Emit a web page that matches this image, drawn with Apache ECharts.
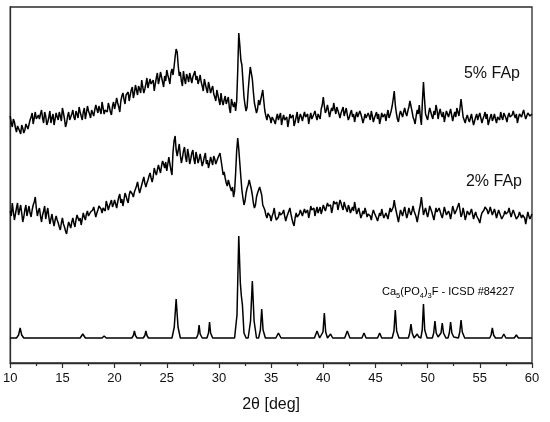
<!DOCTYPE html>
<html>
<head>
<meta charset="utf-8">
<script src="https://cdn.jsdelivr.net/npm/echarts@6/dist/echarts.min.js"></script>
<style>
  html, body { margin: 0; padding: 0; background: #fff; }
  #chart { width: 550px; height: 422px; }
</style>
</head>
<body>
<div id="chart"></div>
<script>
  // measurement grid, 2theta from 10 to 60 deg in 0.1 deg steps
  const twoTheta = Array.from({ length: 501 }, (_, i) => +(10 + i * 0.1).toFixed(1));

  // 5% FAp (stacked, arb. units), one row = 2 deg
  const fap5 = [
    247, 240, 236, 244, 241, 235, 231, 237, 238, 232, 229, 238, 235, 230, 233, 239, 241, 234, 236, 243,
    246, 250, 239, 245, 251, 244, 242, 248, 244, 249, 253, 245, 240, 251, 247, 238, 241, 246, 252, 240,
    245, 249, 238, 244, 250, 246, 243, 251, 247, 242, 255, 250, 244, 236, 240, 247, 251, 243, 246, 249,
    253, 246, 243, 252, 249, 245, 256, 251, 247, 243, 251, 255, 244, 250, 257, 252, 249, 245, 253, 250,
    247, 253, 258, 254, 250, 257, 253, 249, 261, 255, 249, 253, 255, 251, 260, 256, 251, 248, 257, 261,
    254, 259, 265, 260, 256, 251, 262, 267, 270, 264, 259, 268, 266, 271, 262, 268, 273, 276, 265, 270,
    278, 273, 268, 277, 274, 270, 283, 276, 270, 274, 279, 285, 275, 280, 284, 279, 277, 283, 272, 279,
    285, 290, 279, 284, 291, 286, 281, 276, 287, 282, 293, 288, 284, 279, 290, 294, 288, 296, 306, 314,
    311, 297, 287, 291, 282, 277, 292, 284, 279, 289, 286, 281, 290, 285, 280, 286, 288, 292, 283, 287,
    279, 283, 288, 281, 277, 272, 284, 279, 274, 270, 281, 276, 270, 274, 277, 269, 266, 262, 273, 268,
    263, 258, 270, 262, 258, 263, 267, 259, 261, 266, 255, 250, 264, 259, 256, 261, 252, 262, 292, 330,
    318, 303, 298, 282, 266, 258, 252, 256, 272, 285, 296, 294, 284, 271, 260, 262, 250, 254, 263, 258,
    260, 268, 273, 262, 252, 247, 243, 249, 251, 245, 240, 246, 248, 242, 239, 245, 249, 243, 244, 250,
    238, 244, 248, 243, 241, 246, 236, 242, 249, 245, 243, 248, 237, 241, 246, 251, 240, 245, 249, 246,
    242, 247, 251, 246, 244, 249, 239, 245, 250, 244, 245, 249, 252, 247, 243, 249, 248, 244, 254, 258,
    266, 257, 250, 253, 258, 252, 246, 251, 255, 252, 260, 254, 249, 256, 254, 249, 245, 250, 252, 256,
    247, 251, 255, 248, 243, 246, 250, 253, 246, 249, 241, 247, 251, 246, 244, 252, 249, 245, 240, 244,
    249, 245, 243, 250, 247, 243, 252, 247, 241, 245, 248, 251, 244, 249, 239, 244, 250, 246, 245, 249,
    242, 248, 253, 245, 248, 252, 257, 264, 272, 258, 250, 244, 241, 248, 252, 249, 246, 251, 255, 250,
    247, 252, 256, 262, 261, 252, 246, 243, 239, 247, 253, 249, 258, 246, 238, 262, 281, 264, 249, 247,
    243, 250, 255, 251, 247, 244, 252, 248, 258, 253, 244, 250, 254, 249, 246, 251, 241, 247, 252, 249,
    246, 250, 254, 248, 242, 247, 251, 246, 255, 251, 247, 255, 264, 255, 246, 243, 240, 245, 248, 244,
    241, 245, 249, 243, 238, 242, 246, 249, 243, 247, 250, 245, 240, 244, 247, 251, 244, 249, 238, 242,
    246, 249, 242, 245, 249, 244, 240, 246, 247, 243, 251, 246, 243, 250, 248, 245, 241, 247, 250, 246,
    244, 248, 252, 248, 245, 249, 240, 245, 249, 251, 246, 250, 253, 248, 244, 247, 250, 252, 247, 245,
    249
  ];

  // 2% FAp
  const fap2 = [
    152, 147, 160, 151, 143, 149, 155, 160, 148, 153, 158, 150, 141, 146, 153, 158, 147, 152, 157, 150,
    146, 153, 158, 161, 166, 155, 147, 152, 155, 147, 141, 148, 152, 157, 144, 150, 155, 146, 139, 144,
    149, 142, 137, 143, 147, 143, 140, 136, 133, 140, 145, 139, 136, 132, 129, 136, 141, 138, 135, 141,
    145, 140, 136, 143, 148, 146, 142, 145, 138, 144, 150, 146, 143, 149, 152, 147, 145, 151, 149, 153,
    156, 151, 146, 150, 153, 157, 159, 154, 150, 155, 157, 152, 162, 158, 153, 157, 160, 163, 156, 159,
    163, 159, 155, 161, 166, 169, 160, 164, 157, 163, 170, 167, 163, 160, 168, 172, 174, 169, 166, 171,
    173, 177, 181, 175, 170, 174, 178, 182, 186, 180, 176, 180, 183, 187, 190, 185, 181, 186, 195, 191,
    188, 193, 198, 194, 190, 197, 202, 199, 195, 201, 192, 199, 206, 199, 193, 188, 211, 222, 227, 213,
    207, 213, 219, 208, 200, 205, 212, 216, 206, 201, 214, 208, 199, 204, 210, 213, 204, 199, 211, 206,
    200, 204, 209, 203, 197, 201, 206, 210, 199, 203, 195, 200, 206, 202, 198, 207, 204, 199, 201, 205,
    207, 210, 203, 196, 188, 191, 185, 180, 177, 183, 181, 175, 172, 176, 166, 172, 190, 212, 225, 214,
    200, 186, 173, 165, 158, 162, 170, 175, 178, 183, 181, 174, 168, 160, 155, 158, 166, 170, 171, 176,
    175, 168, 158, 156, 153, 148, 145, 150, 152, 147, 142, 147, 150, 155, 147, 143, 141, 146, 151, 148,
    146, 150, 153, 147, 142, 146, 149, 152, 155, 149, 144, 140, 137, 145, 150, 146, 145, 149, 153, 151,
    147, 151, 154, 150, 149, 153, 145, 150, 157, 153, 151, 155, 147, 152, 156, 150, 152, 156, 149, 153,
    158, 155, 152, 156, 160, 157, 155, 158, 150, 155, 162, 159, 157, 161, 153, 158, 163, 160, 156, 153,
    161, 157, 154, 151, 158, 155, 150, 153, 156, 152, 161, 155, 149, 152, 155, 150, 145, 148, 152, 149,
    155, 151, 146, 149, 151, 147, 143, 149, 153, 150, 148, 145, 142, 146, 150, 147, 154, 149, 145, 147,
    150, 147, 144, 150, 155, 151, 149, 156, 163, 156, 151, 146, 141, 147, 153, 150, 147, 152, 156, 150,
    145, 149, 155, 151, 148, 152, 157, 152, 150, 146, 141, 147, 153, 158, 166, 157, 148, 152, 155, 150,
    146, 151, 157, 154, 151, 147, 143, 149, 155, 151, 149, 155, 153, 148, 145, 150, 156, 152, 148, 146,
    152, 149, 144, 150, 157, 153, 149, 151, 154, 157, 160, 153, 146, 149, 155, 150, 143, 147, 152, 150,
    148, 151, 154, 149, 144, 148, 151, 147, 145, 143, 140, 146, 150, 148, 153, 156, 158, 153, 149, 152,
    156, 152, 148, 151, 154, 150, 145, 149, 153, 150, 147, 144, 143, 148, 152, 149, 148, 151, 155, 150,
    146, 150, 153, 150, 147, 144, 142, 147, 151, 148, 145, 148, 150, 145, 139, 145, 151, 147, 144, 146,
    149
  ];

  // Ca5(PO4)3F reference pattern, ICSD #84227
  const refAngle = [
    10.0, 10.6, 10.8, 10.95, 11.1, 11.3, 16.7, 16.95, 17.2, 18.8, 19.0, 19.2,
    21.65, 21.8, 21.9, 22.0, 22.15, 22.75, 22.9, 23.0, 23.1, 23.25,
    25.5, 25.72, 25.9, 26.08, 26.3, 27.85, 28.0, 28.1, 28.2, 28.4,
    28.85, 29.0, 29.1, 29.2, 29.4, 31.5, 31.73, 31.9, 32.05, 32.15, 32.25, 32.4, 32.6,
    32.8, 33.03, 33.2, 33.37, 33.6, 33.8, 33.97, 34.1, 34.23, 34.45,
    35.45, 35.7, 35.95, 39.15, 39.4, 39.65, 39.8, 39.97, 40.1, 40.23, 40.4,
    40.5, 40.7, 40.9, 42.05, 42.3, 42.55, 43.7, 43.9, 44.1, 44.45, 44.6, 44.75,
    45.2, 45.4, 45.6, 46.6, 46.77, 46.9, 47.03, 47.25, 48.15, 48.28, 48.4, 48.52, 48.7,
    48.85, 49.0, 49.15, 49.35, 49.48, 49.6, 49.72, 49.95, 50.45, 50.58, 50.7, 50.82, 51.0,
    51.15, 51.28, 51.4, 51.52, 51.75, 51.95, 52.08, 52.2, 52.32, 52.5,
    52.95, 53.08, 53.2, 53.32, 53.55, 55.95, 56.08, 56.2, 56.32, 56.5,
    57.1, 57.3, 57.5, 58.3, 58.5, 58.7, 59.25, 59.4, 59.55, 60.0
  ];
  const refCounts = [
    25, 25, 28, 35, 28, 25, 25, 29, 25, 25, 27, 25,
    25, 27.5, 32, 27.5, 25, 25, 27.5, 32, 27.5, 25,
    25, 36, 64, 36, 25, 25, 29, 38, 29, 25,
    25, 30, 41, 30, 25, 25, 48, 127, 80, 67, 58, 30, 25,
    25, 42, 82, 42, 25, 25, 33, 54, 33, 25,
    25, 30, 25, 25, 32, 25, 25, 31, 50, 31, 25,
    25, 29, 25, 25, 32, 25, 25, 30, 25, 25, 27, 25,
    25, 30, 25, 25, 32, 53, 32, 25, 25, 30, 39, 30, 25,
    26, 29, 26, 25, 33, 59, 33, 25, 25, 30, 42, 30, 26,
    26, 30, 40, 30, 25, 25, 30, 41, 30, 26,
    25, 31, 43, 31, 25, 25, 28, 35, 28, 25,
    25, 29, 25, 25, 28, 25, 25, 26, 25, 25
  ];

  const xTicks = [10, 15, 20, 25, 30, 35, 40, 45, 50, 55, 60];

  const font = 'Liberation Sans, Arial, sans-serif';
  const pairs = (xs, ys) => xs.map((x, i) => [x, ys[i]]);

  const myChart = echarts.init(document.getElementById('chart'), null, { renderer: 'canvas' });

  const lineSeries = (name, data) => ({
    name: name,
    type: 'line',
    data: data,
    showSymbol: false,
    lineStyle: { color: '#000', width: 1.5 },
    silent: true,
    z: 3
  });

  const option = {
    animation: false,
    grid: {
      left: 9, right: 18, top: 7, bottom: 59,
      show: true, borderColor: '#2b2b2b', borderWidth: 1.3
    },
    xAxis: {
      type: 'value',
      min: xTicks[0],
      max: xTicks[xTicks.length - 1],
      interval: 5,
      name: '2θ [deg]',
      nameLocation: 'middle',
      nameGap: 34,
      nameTextStyle: { fontFamily: font, fontSize: 16, color: '#111' },
      axisLine: { lineStyle: { color: '#2b2b2b', width: 1.3 } },
      axisTick: { length: 5, lineStyle: { color: '#2b2b2b', width: 1.2 } },
      minorTick: { show: true, splitNumber: 2, length: 3, lineStyle: { color: '#2b2b2b', width: 1.2 } },
      axisLabel: { fontFamily: font, fontSize: 13, color: '#111', margin: 9, showMinLabel: true, showMaxLabel: true },
      splitLine: { show: false }
    },
    yAxis: {
      type: 'value',
      min: 0,
      max: 356,
      axisLine: { show: true, lineStyle: { color: '#2b2b2b', width: 1.3 } },
      axisTick: { show: false },
      axisLabel: { show: false },
      splitLine: { show: false }
    },
    series: [
      lineSeries('5% FAp', pairs(twoTheta, fap5)),
      lineSeries('2% FAp', pairs(twoTheta, fap2)),
      lineSeries('Ca5(PO4)3F', pairs(refAngle, refCounts))
    ],
    graphic: [
      {
        type: 'text', x: 520, y: 74, z: 10,
        style: { text: '5% FAp', font: '16px ' + font, fill: '#111', textAlign: 'right', textVerticalAlign: 'middle' }
      },
      {
        type: 'text', x: 522, y: 182, z: 10,
        style: { text: '2% FAp', font: '16px ' + font, fill: '#111', textAlign: 'right', textVerticalAlign: 'middle' }
      },
      {
        type: 'text', x: 382, y: 292, z: 10,
        style: {
          text: '{n|Ca}{s|5}{n|(PO}{s|4}{n|)}{s|3}{n|F - ICSD #84227}',
          textAlign: 'left',
          textVerticalAlign: 'middle',
          rich: {
            n: { fontFamily: font, fontSize: 11, lineHeight: 16, color: '#111' },
            s: { fontFamily: font, fontSize: 7.5, lineHeight: 8, verticalAlign: 'bottom', color: '#111' }
          }
        }
      }
    ]
  };

  myChart.setOption(option);
</script>
</body>
</html>
